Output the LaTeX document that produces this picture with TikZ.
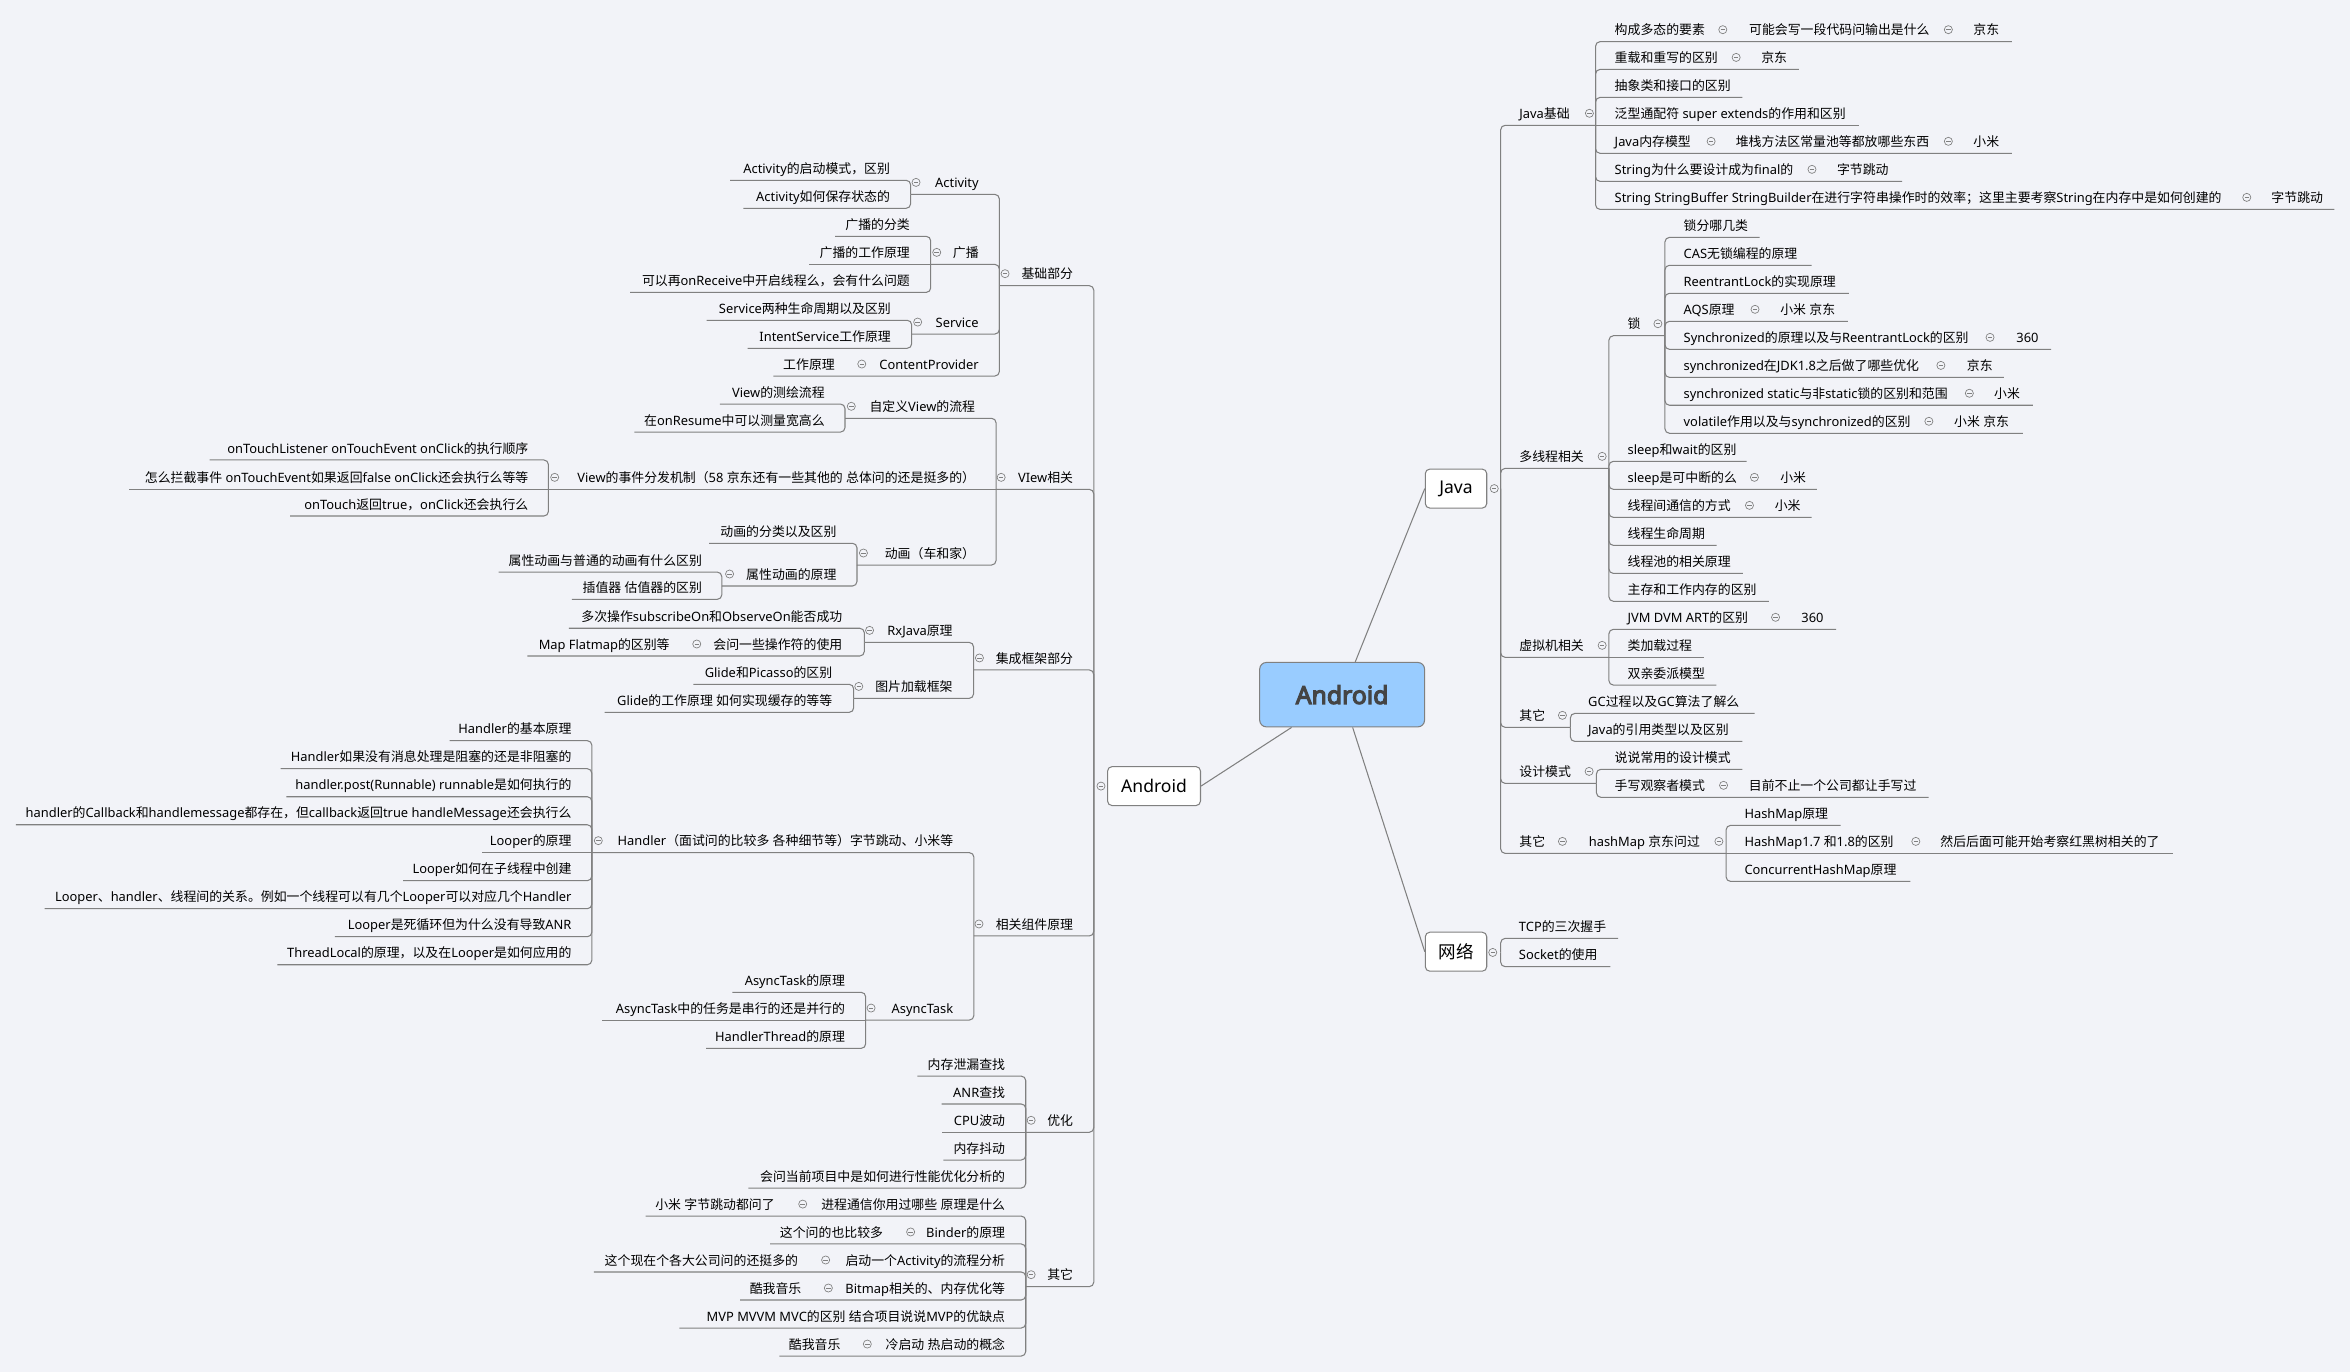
\documentclass[tikz,border=0pt]{standalone}
\usepackage{fontspec}
\setmainfont{Noto Sans}
\newfontfamily\cjkfont{Noto Sans CJK SC}
\newfontfamily\rootfont{Noto Sans}[FakeBold=4.5]
\XeTeXinterchartokenstate=1
\newXeTeXintercharclass\CJKcls
\makeatletter
\count@="2E80
\loop\ifnum\count@<"A000 \XeTeXcharclass\count@=\CJKcls \advance\count@ by 1 \repeat
\count@="FF00
\loop\ifnum\count@<"FFF0 \XeTeXcharclass\count@=\CJKcls \advance\count@ by 1 \repeat
\makeatother
\XeTeXinterchartoks 0 \CJKcls = {\cjkfont}
\XeTeXinterchartoks 4095 \CJKcls = {\cjkfont}
\XeTeXinterchartoks \CJKcls 0 = {\rmfamily}
\XeTeXinterchartoks \CJKcls 4095 = {\rmfamily}

\definecolor{bgc}{RGB}{242,243,248}
\definecolor{lnc}{RGB}{128,128,128}
\definecolor{rootfill}{RGB}{153,204,255}
\definecolor{roottext}{RGB}{68,68,68}
\tikzset{
 tx/.style={inner sep=0pt, font=\fontsize{8.6}{10}\selectfont, text=black},
 conn/.style={draw=lnc, line width=0.7pt, rounded corners=3pt},
 cir/.style={circle, draw=lnc, fill=bgc, line width=0.45pt, minimum size=5.4pt, inner sep=0pt,
   path picture={\draw[lnc, line width=0.45pt] ([xshift=-1.5pt]path picture bounding box.center) -- ([xshift=1.5pt]path picture bounding box.center);}},
 lonebox/.style={draw=lnc, fill=white, rounded corners=3pt, line width=0.7pt, inner sep=0pt, font=\fontsize{11.7}{14}\selectfont, text=black},
 rootbox/.style={draw=lnc, fill=rootfill, rounded corners=4.5pt, line width=0.7pt, inner sep=0pt, font=\rootfont\fontsize{16.5}{20}\selectfont, text=roottext},
}
\newcommand\rtx[4]{\node[tx,anchor=base west] (#1) at (#2,#3-4.6) {#4};}
\newcommand\ltx[4]{\node[tx,anchor=base east] (#1) at (#2,#3-4.6) {#4};}
\newcommand\cmk[3]{\node[cir] (#1) at (#2,#3-8) {};}
\newcommand\pnt[3]{\coordinate (#1) at (#2,#3);}
\newcommand\lnk[2]{\draw[conn] (#1) |- (#2);}
\newcommand\lnks[2]{\draw[conn] (#1) -- (#2);}

\begin{document}
\begin{tikzpicture}[x=1pt,y=-1pt]
\fill[bgc] (0,0) rectangle (1568,915.4);
\useasboundingbox (0,0) rectangle (1568,915.4);

% ---------- root and main branches ----------
\node[rootbox, minimum width=110pt, minimum height=43pt] (root) at (895.5,463.5) {Android};
\node[lonebox, minimum width=41pt, minimum height=26pt] (java) at (971.5,326) {Java};
\node[lonebox, minimum width=41pt, minimum height=26pt] (net) at (971.5,635) {网络};
\node[lonebox, minimum width=62pt, minimum height=26pt] (and) at (770,524.5) {Android};
\draw[conn] (root) -- (java.west);
\draw[conn] (root) -- (net.west);
\draw[conn] (root) -- (and.east);
\node[cir] (javac) at (997,326) {};
\node[cir] (netc) at (996,635.5) {};
\node[cir] (andc) at (734.6,524.5) {};
\pnt{J}{1001.3}{326}
\pnt{N}{1001.3}{635.5}
\pnt{A}{729.8}{524.5}

% ---------- Java ----------
\rtx{jb}{1013.6}{83.6}{Java基础}\cmk{jbc}{1060.5}{83.6}\pnt{JB}{1064.6}{83.6}\lnk{J}{JB}
\rtx{a1}{1077.2}{27.8}{构成多态的要素}\cmk{a1c}{1149.5}{27.8}\rtx{a1b}{1166.9}{27.8}{可能会写一段代码问输出是什么}\cmk{a1d}{1300}{27.8}\rtx{a1e}{1316.5}{27.8}{京东}\pnt{a1u}{1342.3}{27.8}\lnk{JB}{a1u}
\rtx{a2}{1077.2}{46.3}{重载和重写的区别}\cmk{a2c}{1158.4}{46.3}\rtx{a2b}{1175}{46.3}{京东}\pnt{a2u}{1200.3}{46.3}\lnk{JB}{a2u}
\rtx{a3}{1077.2}{65}{抽象类和接口的区别}\pnt{a3u}{1162.5}{65}\lnk{JB}{a3u}
\rtx{a4}{1077.2}{83.6}{泛型通配符 super extends的作用和区别}\pnt{a4u}{1240.3}{83.6}\lnks{JB}{a4u}
\rtx{a5}{1077.2}{102.3}{Java内存模型}\cmk{a5c}{1141.7}{102.3}\rtx{a5b}{1158}{102.3}{堆栈方法区常量池等都放哪些东西}\cmk{a5d}{1300}{102.3}\rtx{a5e}{1316.5}{102.3}{小米}\pnt{a5u}{1342.3}{102.3}\lnk{JB}{a5u}
\rtx{a6}{1077.2}{121}{String为什么要设计成为final的}\cmk{a6c}{1209}{121}\rtx{a6b}{1225.5}{121}{字节跳动}\pnt{a6u}{1269.2}{121}\lnk{JB}{a6u}
\rtx{a7}{1077.2}{139.7}{String StringBuffer StringBuilder在进行字符串操作时的效率；这里主要考察String在内存中是如何创建的}\cmk{a7c}{1499.1}{139.7}\rtx{a7b}{1515.4}{139.7}{字节跳动}\pnt{a7u}{1557.6}{139.7}\lnk{JB}{a7u}

\rtx{mt}{1013.6}{312.5}{多线程相关}\cmk{mtc}{1069}{312.5}\pnt{MT}{1073.5}{312.5}\lnk{J}{MT}
\rtx{lk}{1085.8}{224}{锁}\cmk{lkc}{1106.2}{224}\pnt{LK}{1110.9}{224}\lnk{MT}{LK}
\rtx{l1}{1123.2}{158.4}{锁分哪几类}\pnt{l1u}{1174}{158.4}\lnk{LK}{l1u}
\rtx{l2}{1123.2}{177}{CAS无锁编程的原理}\pnt{l2u}{1208.8}{177}\lnk{LK}{l2u}
\rtx{l3}{1123.2}{195.7}{ReentrantLock的实现原理}\pnt{l3u}{1233.6}{195.7}\lnk{LK}{l3u}
\rtx{l4}{1123.2}{214.4}{AQS原理}\cmk{l4c}{1171}{214.4}\rtx{l4b}{1187.7}{214.4}{小米 京东}\pnt{l4u}{1232.9}{214.4}\lnk{LK}{l4u}
\rtx{l5}{1123.2}{233.1}{Synchronized的原理以及与ReentrantLock的区别}\cmk{l5c}{1327.8}{233.1}\rtx{l5b}{1345.2}{233.1}{360}\pnt{l5u}{1368.5}{233.1}\lnk{LK}{l5u}
\rtx{l6}{1123.2}{251.8}{synchronized在JDK1.8之后做了哪些优化}\cmk{l6c}{1295}{251.8}\rtx{l6b}{1312.2}{251.8}{京东}\pnt{l6u}{1337}{251.8}\lnk{LK}{l6u}
\rtx{l7}{1123.2}{270.4}{synchronized static与非static锁的区别和范围}\cmk{l7c}{1314}{270.4}\rtx{l7b}{1330.4}{270.4}{小米}\pnt{l7u}{1356.4}{270.4}\lnk{LK}{l7u}
\rtx{l8}{1123.2}{289.1}{volatile作用以及与synchronized的区别}\cmk{l8c}{1287}{289.1}\rtx{l8b}{1303.7}{289.1}{小米 京东}\pnt{l8u}{1349.7}{289.1}\lnk{LK}{l8u}
\rtx{m1}{1085.8}{307.8}{sleep和wait的区别}\pnt{m1u}{1165.4}{307.8}\lnk{MT}{m1u}
\rtx{m2}{1085.8}{326.5}{sleep是可中断的么}\cmk{m2c}{1170.6}{326.5}\rtx{m2b}{1187.7}{326.5}{小米}\pnt{m2u}{1212.2}{326.5}\lnk{MT}{m2u}
\rtx{m3}{1085.8}{345.2}{线程间通信的方式}\cmk{m3c}{1167.3}{345.2}\rtx{m3b}{1184}{345.2}{小米}\pnt{m3u}{1208.8}{345.2}\lnk{MT}{m3u}
\rtx{m4}{1085.8}{363.9}{线程生命周期}\pnt{m4u}{1145.4}{363.9}\lnk{MT}{m4u}
\rtx{m5}{1085.8}{382.6}{线程池的相关原理}\pnt{m5u}{1162.9}{382.6}\lnk{MT}{m5u}
\rtx{m6}{1085.8}{401.2}{主存和工作内存的区别}\pnt{m6u}{1180.3}{401.2}\lnk{MT}{m6u}

\rtx{vm}{1013.6}{438.6}{虚拟机相关}\cmk{vmc}{1069}{438.6}\pnt{VM}{1073.5}{438.6}\lnk{J}{VM}
\rtx{vm1}{1085.8}{419.9}{JVM DVM ART的区别}\cmk{vm1c}{1184.7}{419.9}\rtx{vm1b}{1201.8}{419.9}{360}\pnt{vm1u}{1225.1}{419.9}\lnk{VM}{vm1u}
\rtx{vm2}{1085.8}{438.6}{类加载过程}\pnt{vm2u}{1137}{438.6}\lnks{VM}{vm2u}
\rtx{vm3}{1085.8}{457.1}{双亲委派模型}\pnt{vm3u}{1145.2}{457.1}\lnk{VM}{vm3u}

\rtx{gc}{1013.6}{485.3}{其它}\cmk{gcc}{1042.5}{485.3}\pnt{G}{1047.8}{485.3}\lnk{J}{G}
\rtx{g1}{1059.5}{476}{GC过程以及GC算法了解么}\pnt{g1u}{1170.7}{476}\lnk{G}{g1u}
\rtx{g2}{1059.5}{494.7}{Java的引用类型以及区别}\pnt{g2u}{1162.6}{494.7}\lnk{G}{g2u}

\rtx{dp}{1013.6}{522.7}{设计模式}\cmk{dpc}{1060.3}{522.7}\pnt{D}{1065.2}{522.7}\lnk{J}{D}
\rtx{d1}{1077.2}{513.3}{说说常用的设计模式}\pnt{d1u}{1162.6}{513.3}\lnk{D}{d1u}
\rtx{d2}{1077.2}{532}{手写观察者模式}\cmk{d2c}{1150}{532}\rtx{d2b}{1166.7}{532}{目前不止一个公司都让手写过}\pnt{d2u}{1286.8}{532}\lnk{D}{d2u}

\rtx{hm}{1013.6}{569.4}{其它}\cmk{hmc}{1042.5}{569.4}\rtx{hm2}{1059.9}{569.4}{hashMap 京东问过}\cmk{hm2c}{1146.9}{569.4}\pnt{H}{1151.7}{569.4}\lnk{J}{H}
\rtx{h1}{1163.8}{550.7}{HashMap原理}\pnt{h1u}{1228.1}{550.7}\lnk{H}{h1u}
\rtx{h2}{1163.8}{569.4}{HashMap1.7 和1.8的区别}\cmk{h2c}{1278.3}{569.4}\rtx{h2b}{1294.5}{569.4}{然后后面可能开始考察红黑树相关的了}\pnt{h2u}{1449.7}{569.4}\lnks{H}{h2u}
\rtx{h3}{1163.8}{588.1}{ConcurrentHashMap原理}\pnt{h3u}{1274.6}{588.1}\lnk{H}{h3u}

% ---------- network ----------
\rtx{n1}{1013.3}{626.1}{TCP的三次握手}\pnt{n1u}{1079.7}{626.1}\lnk{N}{n1u}
\rtx{n2}{1013.3}{645}{Socket的使用}\pnt{n2u}{1074.5}{645}\lnk{N}{n2u}

% ---------- Android (left) ----------
\ltx{bs}{716.2}{190.6}{基础部分}\cmk{bsc}{670.6}{190.6}\pnt{B}{666.8}{190.6}\lnk{A}{B}
\ltx{ba}{653.2}{129.7}{Activity}\cmk{bac}{611.2}{129.7}\pnt{BA}{607.6}{129.7}\lnk{B}{BA}
\ltx{ba1}{594}{120.3}{Activity的启动模式，区别}\pnt{ba1u}{487.1}{120.3}\lnk{BA}{ba1u}
\ltx{ba2}{594}{139}{Activity如何保存状态的}\pnt{ba2u}{496}{139}\lnk{BA}{ba2u}
\ltx{bb}{653.2}{176.4}{广播}\cmk{bbc}{625}{176.4}\pnt{BB}{621}{176.4}\lnk{B}{BB}
\ltx{bb1}{607.3}{157.7}{广播的分类}\pnt{bb1u}{557.2}{157.7}\lnk{BB}{bb1u}
\ltx{bb2}{607.3}{176.4}{广播的工作原理}\pnt{bb2u}{539.8}{176.4}\lnks{BB}{bb2u}
\ltx{bb3}{607.3}{195.1}{可以再onReceive中开启线程么，会有什么问题}\pnt{bb3u}{420.4}{195.1}\lnk{BB}{bb3u}
\ltx{sv}{653.2}{222.9}{Service}\cmk{svc}{612.3}{222.9}\pnt{BS}{608.3}{222.9}\lnk{B}{BS}
\ltx{sv1}{594.6}{213.7}{Service两种生命周期以及区别}\pnt{sv1u}{471.5}{213.7}\lnk{BS}{sv1u}
\ltx{sv2}{594.6}{232.4}{IntentService工作原理}\pnt{sv2u}{498.9}{232.4}\lnk{BS}{sv2u}
\ltx{cp}{653.2}{250.9}{ContentProvider}\cmk{cpc}{575}{250.9}\ltx{cp1}{557.2}{250.9}{工作原理}\pnt{cpu}{516}{250.9}\lnk{B}{cpu}

\ltx{vw}{716.2}{326.5}{VIew相关}\cmk{vwc}{668}{326.5}\pnt{V}{664.6}{326.5}\lnk{A}{V}
\ltx{v1}{650.8}{279.1}{自定义View的流程}\cmk{v1c}{568}{279.1}\pnt{V1}{563.8}{279.1}\lnk{V}{V1}
\ltx{v11}{550.5}{269.6}{View的测绘流程}\pnt{v11u}{480.3}{269.6}\lnk{V1}{v11u}
\ltx{v12}{550.5}{288.3}{在onResume中可以测量宽高么}\pnt{v12u}{423.3}{288.3}\lnk{V1}{v12u}
\ltx{v2}{650.8}{326.5}{View的事件分发机制（58 京东还有一些其他的 总体问的还是挺多的）}\cmk{v2c}{370.1}{326.5}\pnt{V2}{365.9}{326.5}\lnks{V}{V2}
\ltx{v21}{352.7}{306.9}{onTouchListener onTouchEvent onClick的执行顺序}\pnt{v21u}{139.9}{306.9}\lnk{V2}{v21u}
\ltx{v22}{352.7}{326.5}{怎么拦截事件 onTouchEvent如果返回false onClick还会执行么等等}\pnt{v22u}{85.9}{326.5}\lnks{V2}{v22u}
\ltx{v23}{352.7}{344.3}{onTouch返回true，onClick还会执行么}\pnt{v23u}{193.5}{344.3}\lnk{V2}{v23u}
\ltx{v3}{650.8}{377}{动画（车和家）}\cmk{v3c}{576.1}{377}\pnt{V3}{571.8}{377}\lnk{V}{V3}
\ltx{v31}{558.3}{362.5}{动画的分类以及区别}\pnt{v31u}{473.1}{362.5}\lnk{V3}{v31u}
\ltx{v32}{558.3}{391}{属性动画的原理}\cmk{v32c}{486.8}{391}\pnt{V32}{481.6}{391}\lnk{V3}{V32}
\ltx{v321}{468.6}{381.7}{属性动画与普通的动画有什么区别}\pnt{v321u}{332.7}{381.7}\lnk{V32}{v321u}
\ltx{v322}{468.6}{399.9}{插值器 估值器的区别}\pnt{v322u}{381.5}{399.9}\lnk{V32}{v322u}

\ltx{it}{716.2}{447}{集成框架部分}\cmk{itc}{653.5}{447}\pnt{I}{649.6}{447}\lnk{A}{I}
\ltx{ir}{635.8}{428.6}{RxJava原理}\cmk{irc}{580.2}{428.6}\pnt{IR}{576.7}{428.6}\lnk{I}{IR}
\ltx{ir1}{562.2}{419.2}{多次操作subscribeOn和ObserveOn能否成功}\pnt{ir1u}{379.6}{419.2}\lnk{IR}{ir1u}
\ltx{ir2}{562.2}{437.7}{会问一些操作符的使用}\cmk{ir2c}{464.9}{437.7}\ltx{ir2b}{447}{437.7}{Map Flatmap的区别等}\pnt{ir2u}{351.9}{437.7}\lnk{IR}{ir2u}
\ltx{ip}{635.8}{466}{图片加载框架}\cmk{ipc}{573}{466}\pnt{IP}{569.6}{466}\lnk{I}{IP}
\ltx{ip1}{555.5}{456.6}{Glide和Picasso的区别}\pnt{ip1u}{462.7}{456.6}\lnk{IP}{ip1u}
\ltx{ip2}{555.5}{475.3}{Glide的工作原理 如何实现缓存的等等}\pnt{ip2u}{403.4}{475.3}\lnk{IP}{ip2u}

\ltx{cc}{716.2}{624.5}{相关组件原理}\cmk{ccc}{653.2}{624.5}\pnt{C}{649.8}{624.5}\lnk{A}{C}
\ltx{ch}{636.2}{568.9}{Handler（面试问的比较多 各种细节等）字节跳动、小米等}\cmk{chc}{399.2}{568.9}\pnt{CH}{394.9}{568.9}\lnk{C}{CH}
\ltx{ch1}{381.5}{494.2}{Handler的基本原理}\pnt{ch1u}{300}{494.2}\lnk{CH}{ch1u}
\ltx{ch2}{381.5}{512.9}{Handler如果没有消息处理是阻塞的还是非阻塞的}\pnt{ch2u}{187.2}{512.9}\lnk{CH}{ch2u}
\ltx{ch3}{381.5}{531.6}{handler.post(Runnable) runnable是如何执行的}\pnt{ch3u}{191.1}{531.6}\lnk{CH}{ch3u}
\ltx{ch4}{381.5}{550.3}{handler的Callback和handlemessage都存在，但callback返回true handleMessage还会执行么}\pnt{ch4u}{10.6}{550.3}\lnk{CH}{ch4u}
\ltx{ch5}{381.5}{568.9}{Looper的原理}\pnt{ch5u}{321.3}{568.9}\lnks{CH}{ch5u}
\ltx{ch6}{381.5}{587.6}{Looper如何在子线程中创建}\pnt{ch6u}{269}{587.6}\lnk{CH}{ch6u}
\ltx{ch7}{381.5}{606.3}{Looper、handler、线程间的关系。例如一个线程可以有几个Looper可以对应几个Handler}\pnt{ch7u}{29.8}{606.3}\lnk{CH}{ch7u}
\ltx{ch8}{381.5}{625}{Looper是死循环但为什么没有导致ANR}\pnt{ch8u}{223.4}{625}\lnk{CH}{ch8u}
\ltx{ch9}{381.5}{643.7}{ThreadLocal的原理，以及在Looper是如何应用的}\pnt{ch9u}{185.1}{643.7}\lnk{CH}{ch9u}
\ltx{ca}{636.2}{680.6}{AsyncTask}\cmk{cac}{581.2}{680.6}\pnt{CA}{577.6}{680.6}\lnk{C}{CA}
\ltx{ca1}{564}{662.1}{AsyncTask的原理}\pnt{ca1u}{488.6}{662.1}\lnk{CA}{ca1u}
\ltx{ca2}{564}{680.6}{AsyncTask中的任务是串行的还是并行的}\pnt{ca2u}{401.5}{680.6}\lnks{CA}{ca2u}
\ltx{ca3}{564}{699.5}{HandlerThread的原理}\pnt{ca3u}{471.1}{699.5}\lnk{CA}{ca3u}

\ltx{op}{716.2}{755.5}{优化}\cmk{opc}{688}{755.5}\pnt{O}{684.4}{755.5}\lnk{A}{O}
\ltx{op1}{670.8}{718}{内存泄漏查找}\pnt{op1u}{612.1}{718}\lnk{O}{op1u}
\ltx{op2}{670.8}{736.6}{ANR查找}\pnt{op2u}{628.3}{736.6}\lnk{O}{op2u}
\ltx{op3}{670.8}{755.5}{CPU波动}\pnt{op3u}{628.7}{755.5}\lnks{O}{op3u}
\ltx{op4}{670.8}{774}{内存抖动}\pnt{op4u}{629.4}{774}\lnk{O}{op4u}
\ltx{op5}{670.8}{792.7}{会问当前项目中是如何进行性能优化分析的}\pnt{op5u}{499.3}{792.7}\lnk{O}{op5u}

\ltx{qt}{716.2}{858.5}{其它}\cmk{qtc}{688}{858.5}\pnt{Q}{684.4}{858.5}\lnk{A}{Q}
\ltx{q1}{670.8}{811.4}{进程通信你用过哪些 原理是什么}\cmk{q1c}{535.6}{811.4}\ltx{q1b}{517.1}{811.4}{小米 字节跳动都问了}\pnt{q1u}{430.8}{811.4}\lnk{Q}{q1u}
\ltx{q2}{670.8}{830}{Binder的原理}\cmk{q2c}{607.6}{830}\ltx{q2b}{589.4}{830}{这个问的也比较多}\pnt{q2u}{513.8}{830}\lnk{Q}{q2u}
\ltx{q3}{670.8}{848.7}{启动一个Activity的流程分析}\cmk{q3c}{550.9}{848.7}\ltx{q3b}{532.7}{848.7}{这个现在个各大公司问的还挺多的}\pnt{q3u}{396.3}{848.7}\lnk{Q}{q3u}
\ltx{q4}{670.8}{867.4}{Bitmap相关的、内存优化等}\cmk{q4c}{552.7}{867.4}\ltx{q4b}{534.9}{867.4}{酷我音乐}\pnt{q4u}{493.8}{867.4}\lnk{Q}{q4u}
\ltx{q5}{670.8}{886.1}{MVP MVVM MVC的区别 结合项目说说MVP的优缺点}\pnt{q5u}{453.3}{886.1}\lnk{Q}{q5u}
\ltx{q6}{670.8}{904.8}{冷启动 热启动的概念}\cmk{q6c}{578.7}{904.8}\ltx{q6b}{561}{904.8}{酷我音乐}\pnt{q6u}{520}{904.8}\lnk{Q}{q6u}
\end{tikzpicture}
\end{document}
